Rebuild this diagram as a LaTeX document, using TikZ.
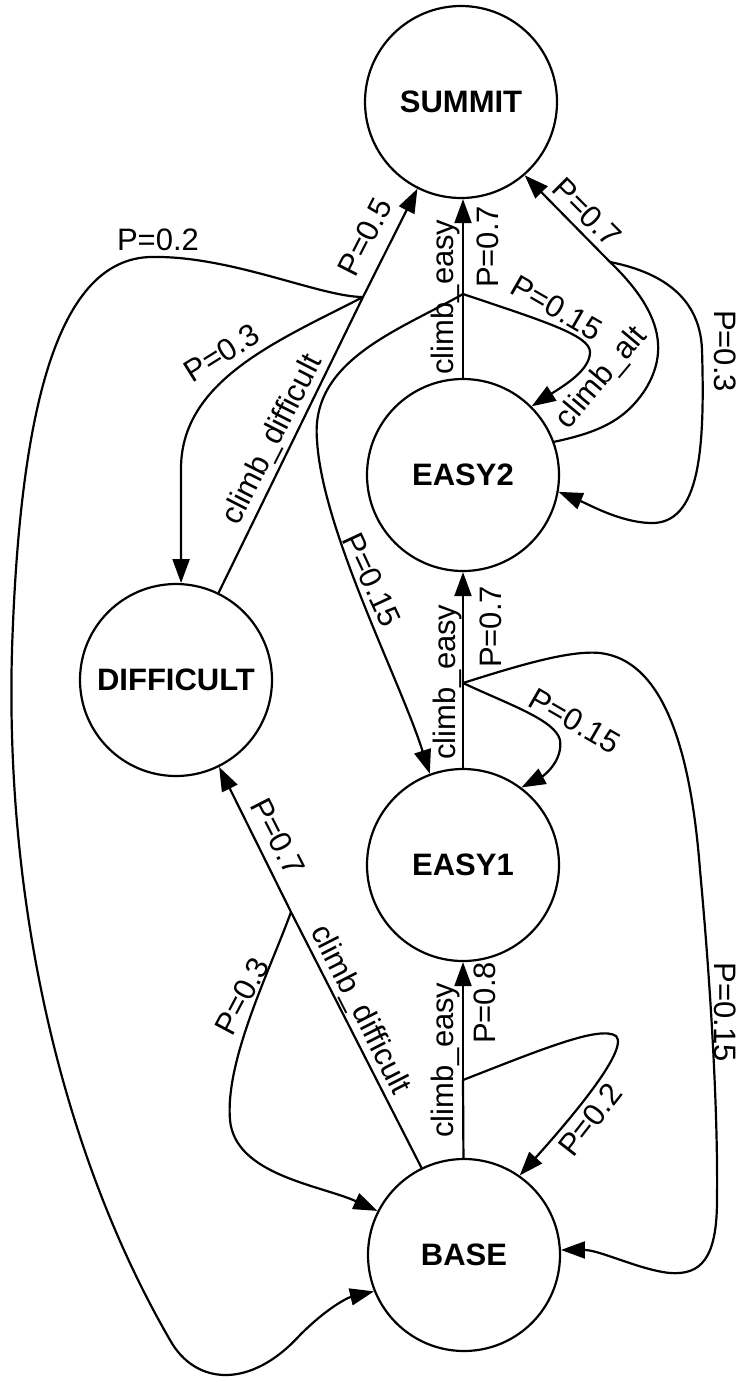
\documentclass[tikz,border=0pt]{standalone}
\usepackage{fontspec}
\setmainfont{Liberation Sans}
\usetikzlibrary{arrows.meta}
\begin{document}
\begin{tikzpicture}[x=1pt,y=-1pt,
  state/.style={draw, circle, line width=2.2pt, minimum size=192pt, inner sep=0pt,
                font=\fontsize{31}{31}\selectfont\bfseries},
  edge/.style={line width=2.2pt},
  arr/.style={edge, -{Triangle[length=24pt,width=17pt]}},
  lbl/.style={font=\fontsize{31}{31}\selectfont, inner sep=0pt}]
\useasboundingbox (0,0) rectangle (749,1382);

% states
\node[state] (summit)    at (461,102)  {SUMMIT};
\node[state] (easy2)     at (463,475)  {EASY2};
\node[state] (easy1)     at (463,865)  {EASY1};
\node[state] (difficult) at (176,680)  {DIFFICULT};
\node[state] (base)      at (464,1255) {BASE};

% action points
\coordinate (jE2) at (463,294);
\coordinate (jE1) at (463,683);
\coordinate (jB)  at (463,1080);
\coordinate (jD)  at (363,297);
\coordinate (jBD) at (291,912);
\coordinate (jA)  at (610,262);

% EASY2 -- climb_easy
\draw[edge] (easy2) -- (jE2);
\draw[arr] (jE2) -- (summit.south -| jE2);
\draw[arr] (jE2) .. controls (540,320) and (590,335) .. (590,352)
                 .. controls (590,370) and (565,385) .. (easy2.45);
\draw[arr] (jE2) .. controls (400,330) and (310,360) .. (317,440)
                 .. controls (322,530) and (400,680) .. (easy1.110);

% EASY2 -- climb_alt
\draw[edge] (easy2.20) .. controls (600,432) and (625,420) .. (645,390)
                       .. controls (670,350) and (660,310) .. (jA);
\draw[arr] (jA) -- (summit.311);
\draw[arr] (jA) .. controls (650,270) and (700,290) .. (702,350)
                .. controls (705,450) and (700,525) .. (650,523)
                .. controls (620,522) and (590,505) .. (easy2.350);

% EASY1 -- climb_easy
\draw[edge] (easy1) -- (jE1);
\draw[arr] (jE1) -- (easy2);
\draw[arr] (jE1) .. controls (510,705) and (555,720) .. (560,740)
                 .. controls (563,760) and (545,775) .. (easy1.53);
\draw[arr] (jE1) .. controls (520,665) and (570,650) .. (600,653)
                 .. controls (660,660) and (690,740) .. (700,870)
                 .. controls (712,1000) and (718,1120) .. (717,1200)
                 .. controls (717,1260) and (700,1275) .. (670,1273)
                 .. controls (640,1270) and (600,1250) .. (base.3);

% BASE -- climb_easy
\draw[edge] (base) -- (jB);
\draw[arr] (jB) -- (easy1);
\draw[arr] (jB) .. controls (540,1050) and (600,1025) .. (616,1036)
                .. controls (630,1050) and (565,1125) .. (base.55);

% BASE -- climb_difficult
\draw[edge] (base.116) -- (jBD);
\draw[arr] (jBD) -- (difficult);
\draw[arr] (jBD) .. controls (270,970) and (225,1060) .. (230,1120)
                 .. controls (235,1175) and (320,1185) .. (base.153);

% DIFFICULT -- climb_difficult
\draw[edge] (difficult) -- (jD);
\draw[arr] (jD) -- (summit);
\draw[arr] (jD) .. controls (280,340) and (180,380) .. (181,470) -- (difficult.87);
\draw[arr] (jD) .. controls (320,297) and (230,255) .. (150,257)
                .. controls (60,260) and (20,400) .. (12,650)
                .. controls (5,900) and (60,1150) .. (170,1340)
                .. controls (195,1385) and (250,1390) .. (300,1335)
                .. controls (330,1305) and (350,1297) .. (base.202);

% labels
\node[lbl] (l1)  at (158,240)  {P=0.2};
\node[lbl, rotate=63] (l2)  at (365,237)  {P=0.5};
\node[lbl, rotate=32] (l3)  at (222,353)  {P=0.3};
\node[lbl, rotate=63] (l4)  at (273,440)  {climb\_difficult};
\node[lbl, rotate=90] (l5)  at (445,297)  {climb\_easy};
\node[lbl, rotate=90] (l6)  at (488,247)  {P=0.7};
\node[lbl, rotate=-30] (l7) at (557,308)  {P=0.15};
\node[lbl, rotate=50] (l8)  at (602,378)  {climb\_alt};
\node[lbl, rotate=-45] (l9) at (587,212)  {P=0.7};
\node[lbl, rotate=-90] (l10) at (725,351) {P=0.3};
\node[lbl, rotate=-65] (l11) at (372,580) {P=0.15};
\node[lbl, rotate=90] (l12) at (447,682)  {climb\_easy};
\node[lbl, rotate=90] (l13) at (491,627)  {P=0.7};
\node[lbl, rotate=-30] (l14) at (575,721) {P=0.15};
\node[lbl, rotate=-63] (l15) at (278,837) {P=0.7};
\node[lbl, rotate=-63] (l16) at (360,1010) {climb\_difficult};
\node[lbl, rotate=62] (l17) at (242,996)  {P=0.3};
\node[lbl, rotate=90] (l18) at (445,1060) {climb\_easy};
\node[lbl, rotate=90] (l19) at (485,1003) {P=0.8};
\node[lbl, rotate=52] (l20) at (590,1120) {P=0.2};
\node[lbl, rotate=-90] (l21) at (725,1012) {P=0.15};
\end{tikzpicture}
\end{document}
